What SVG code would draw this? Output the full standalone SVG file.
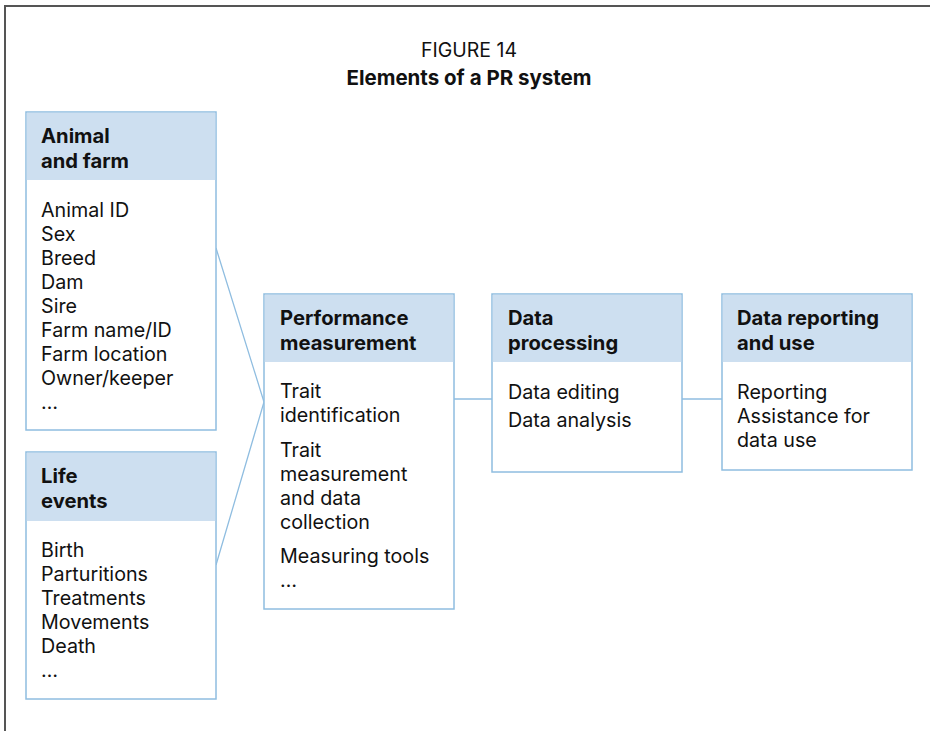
<svg xmlns="http://www.w3.org/2000/svg" width="930" height="731" viewBox="0 0 930 731">
<style>
.frame{fill:none;stroke:#555;stroke-width:2}
.box{fill:#fff;stroke:#8fbde0;stroke-width:1.5}
.hdr{fill:#cddff0}
.t{font-family:Inter,"Open Sans",sans-serif;font-size:19.7px;fill:#111}
.h{font-family:Inter,"Open Sans",sans-serif;font-size:20.2px;font-weight:bold;fill:#111}
.ti{font-family:Inter,"Open Sans",sans-serif;font-size:19.5px;fill:#111;text-anchor:middle}
.tb{font-family:Inter,"Open Sans",sans-serif;font-size:20.5px;font-weight:bold;fill:#111;text-anchor:middle}
.c{fill:none;stroke:#8fbde0;stroke-width:1.3}
</style>
<rect width="930" height="731" fill="#fff"/>
<path class="frame" d="M5,740 V6 H940"/>
<text class="ti" x="469" y="57">FIGURE 14</text>
<text class="tb" x="469" y="85">Elements of a PR system</text>
<g id="connectors">
<polyline class="c" points="216,248 264,402 216,565"/>
<line class="c" x1="454" y1="399" x2="492" y2="399"/>
<line class="c" x1="682" y1="399" x2="722" y2="399"/>
</g>
<g id="animal-farm">
<rect class="box" x="26" y="112" width="190" height="318"/>
<rect class="hdr" x="26.75" y="112.75" width="188.5" height="67.25"/>
<text class="h" x="41" y="143">Animal</text>
<text class="h" x="41" y="168">and farm</text>
<text class="t" x="41" y="217">Animal ID</text>
<text class="t" x="41" y="241">Sex</text>
<text class="t" x="41" y="265">Breed</text>
<text class="t" x="41" y="289">Dam</text>
<text class="t" x="41" y="313">Sire</text>
<text class="t" x="41" y="337">Farm name/ID</text>
<text class="t" x="41" y="361">Farm location</text>
<text class="t" x="41" y="385">Owner/keeper</text>
<text class="t" x="41" y="409">…</text>
</g>
<g id="life-events">
<rect class="box" x="26" y="452" width="190" height="247"/>
<rect class="hdr" x="26.75" y="452.75" width="188.5" height="68.25"/>
<text class="h" x="41" y="483">Life</text>
<text class="h" x="41" y="508">events</text>
<text class="t" x="41" y="557">Birth</text>
<text class="t" x="41" y="581">Parturitions</text>
<text class="t" x="41" y="605">Treatments</text>
<text class="t" x="41" y="629">Movements</text>
<text class="t" x="41" y="653">Death</text>
<text class="t" x="41" y="677">…</text>
</g>
<g id="performance">
<rect class="box" x="264" y="294" width="190" height="315"/>
<rect class="hdr" x="264.75" y="294.75" width="188.5" height="67.25"/>
<text class="h" x="280" y="325">Performance</text>
<text class="h" x="280" y="350">measurement</text>
<text class="t" x="280" y="398">Trait</text>
<text class="t" x="280" y="422">identification</text>
<text class="t" x="280" y="457">Trait</text>
<text class="t" x="280" y="481">measurement</text>
<text class="t" x="280" y="505">and data</text>
<text class="t" x="280" y="529">collection</text>
<text class="t" x="280" y="563">Measuring tools</text>
<text class="t" x="280" y="587">…</text>
</g>
<g id="processing">
<rect class="box" x="492" y="294" width="190" height="178"/>
<rect class="hdr" x="492.75" y="294.75" width="188.5" height="67.25"/>
<text class="h" x="508" y="325">Data</text>
<text class="h" x="508" y="350">processing</text>
<text class="t" x="508" y="399">Data editing</text>
<text class="t" x="508" y="427">Data analysis</text>
</g>
<g id="reporting">
<rect class="box" x="722" y="294" width="190" height="176"/>
<rect class="hdr" x="722.75" y="294.75" width="188.5" height="67.25"/>
<text class="h" x="737" y="325">Data reporting</text>
<text class="h" x="737" y="350">and use</text>
<text class="t" x="737" y="399">Reporting</text>
<text class="t" x="737" y="423">Assistance for</text>
<text class="t" x="737" y="447">data use</text>
</g>
</svg>
